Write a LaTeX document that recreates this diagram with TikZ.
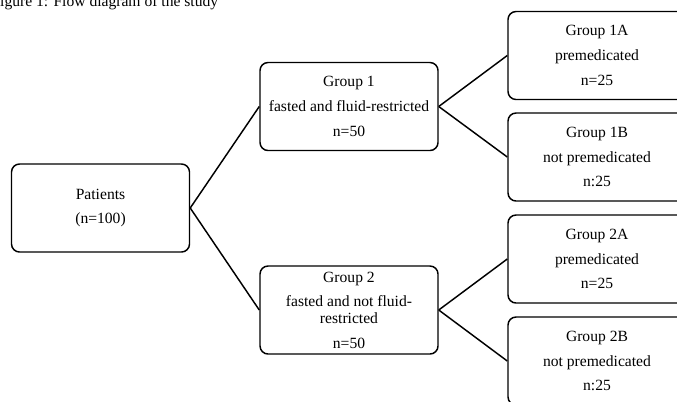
\documentclass[tikz,border=0pt]{standalone}
\usepackage{fontspec}
\setmainfont{Liberation Serif}
\usetikzlibrary{positioning}
\tikzset{
    group/.style ={
        shape=rectangle,
        draw=black,
        line width=1.1pt,
        rounded corners=6pt,
        align=center,
        minimum width=133.5pt,
        minimum height=66pt,
        inner sep=0pt,
        font=\fontsize{11.7}{12.5}\selectfont
    },
    link/.style ={
        draw=black,
        line width=1.1pt
    }
}

\begin{document}
\begin{tikzpicture}[x=0.75pt,y=-0.75pt]
    \useasboundingbox (0,0) rectangle (677,401);
    \clip (0,0) rectangle (677,401);
    \node[anchor=base west,inner sep=0pt,font=\fontsize{11.7}{12.5}\selectfont] (title) at(-8.7,6.7) {Figure 1: Flow diagram of the study};
    \node[group] (pat) at(100.5,208) {Patients\\[6pt](n=100)};
    \node[group] (g1) at(349,106.5) {Group 1\\[6pt]fasted and fluid-restricted\\[6pt]n=50};
    \node[group] (g2) at(349,310) {Group 2\\[6pt]fasted and not fluid-\\restricted\\[6pt]n=50};
    \node[group] (g1a) at(597,55.5) {Group 1A\\[6pt]premedicated\\[6pt]n=25};
    \node[group] (g1b) at(597,157) {Group 1B\\[6pt]not premedicated\\[6pt]n:25};
    \node[group] (g2a) at(597,259) {Group 2A\\[6pt]premedicated\\[6pt]n=25};
    \node[group] (g2b) at(597,361) {Group 2B\\[6pt]not premedicated\\[6pt]n:25};
    \draw[link] (pat.east) -- (g1.west);
    \draw[link] (pat.east) -- (g2.west);
    \draw[link] (g1.east) -- (g1a.west);
    \draw[link] (g1.east) -- (g1b.west);
    \draw[link] (g2.east) -- (g2a.west);
    \draw[link] (g2.east) -- (g2b.west);
\end{tikzpicture}
\end{document}
